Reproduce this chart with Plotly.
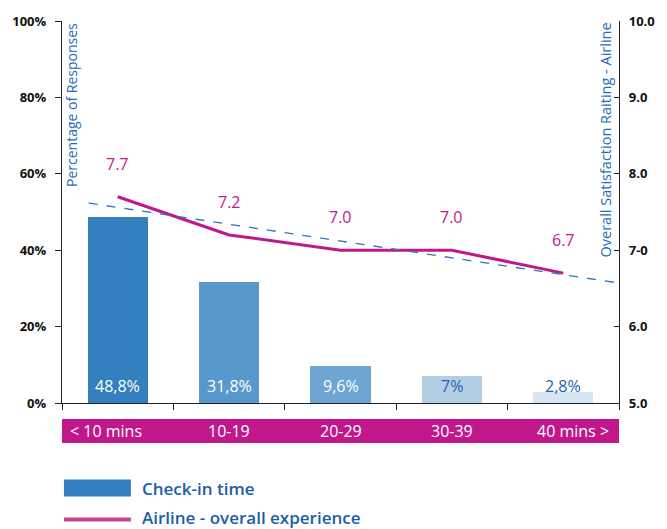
import numpy as np
import plotly.graph_objects as go

# Check-in time buckets and results
categories = ["< 10 mins", "10-19", "20-29", "30-39", "40 mins >"]
response_pct = [48.8, 31.8, 9.6, 7.0, 2.8]
response_labels = ["48,8%", "31,8%", "9,6%", "7%", "2,8%"]
rating = [7.7, 7.2, 7.0, 7.0, 6.7]
rating_labels = ["7.7", "7.2", "7.0", "7.0", "6.7"]

pct_ticks = [0, 20, 40, 60, 80, 100]
pct_ticktext = ["0%", "20%", "40%", "60%", "80%", "100%"]
rating_ticks = [5, 6, 7, 8, 9, 10]
rating_ticktext = ["5.0", "6.0", "7-0", "8.0", "9.0", "10.0"]

BAR_COLORS = ["#347fbe", "#5898cb", "#6ea5d3", "#b3cfe6", "#d5e5f2"]
BAR_TEXT = ["white", "white", "white", "#1f63b0", "#1f63b0"]
MAGENTA = "#c0188b"
BLUE_TEXT = "#1c5da8"
FONT = "Open Sans"

x = np.arange(len(categories))

fig = go.Figure()

fig.add_trace(go.Bar(
    x=x, y=response_pct, width=0.54,
    marker=dict(color=BAR_COLORS, line=dict(width=0)),
    name="Check-in time", hoverinfo="skip",
))

fig.add_trace(go.Scatter(
    x=x, y=rating, yaxis="y2", mode="lines",
    line=dict(color=MAGENTA, width=3),
    name="Airline - overall experience",
))

# linear trend of the rating
slope, intercept = np.polyfit(x, rating, 1)
trend_x = np.array([-0.26, 4.5])
fig.add_trace(go.Scatter(
    x=trend_x, y=slope * trend_x + intercept, yaxis="y2", mode="lines",
    line=dict(color="#2f75c0", width=1.3, dash="dash"),
    showlegend=False,
))

annotations = []
for i, (v, t) in enumerate(zip(rating, rating_labels)):
    annotations.append(dict(x=i, y=v, yref="y2", text=t, showarrow=False,
                            yshift=33, font=dict(family=FONT, size=16, color=MAGENTA)))
for i, t in enumerate(response_labels):
    annotations.append(dict(x=i, y=0, yref="y", text=t, showarrow=False,
                            yshift=17, font=dict(family=FONT, size=16, color=BAR_TEXT[i])))

# category band under the axis
band_y0, band_y1 = -0.105, -0.042
for i, c in enumerate(categories):
    if i == 0:
        ax, anchor = -0.45, "left"
    elif i == len(categories) - 1:
        ax, anchor = 4.43, "right"
    else:
        ax, anchor = i, "center"
    annotations.append(dict(x=ax, y=(band_y0 + band_y1) / 2, xref="x", yref="paper",
                            text=c, showarrow=False, xanchor=anchor, yanchor="middle",
                            font=dict(family=FONT, size=16, color="white")))

# axis titles inside the plot
annotations.append(dict(x=0.0, xref="paper", xshift=9, y=1.0, yref="paper",
                        text="Percentage of Responses", textangle=-90, showarrow=False,
                        xanchor="center", yanchor="top",
                        font=dict(family=FONT, size=14, color="#1f6cb8")))
annotations.append(dict(x=1.0, xref="paper", xshift=-14, y=1.0, yref="paper",
                        text="Overall Satisfaction Raiting - Airline", textangle=-90,
                        showarrow=False, xanchor="center", yanchor="top",
                        font=dict(family=FONT, size=14.5, color="#1f6cb8")))

shapes = [
    dict(type="rect", xref="x", yref="paper", x0=-0.5, x1=4.5, y0=band_y0, y1=band_y1,
         fillcolor=MAGENTA, line=dict(width=0), layer="below"),
]

fig.update_layout(
    width=667, height=529,
    margin=dict(l=60, r=41, t=19, b=126),
    paper_bgcolor="white", plot_bgcolor="white",
    showlegend=False,
    bargap=0,
    xaxis=dict(range=[-0.5, 4.5], tickvals=np.arange(-0.5, 5, 1), showticklabels=False,
               ticks="outside", ticklen=6, tickcolor="#222", showline=True,
               linecolor="#222", linewidth=1.3, showgrid=False, zeroline=False,
               fixedrange=True),
    yaxis=dict(range=[0, 100], tickvals=pct_ticks, ticktext=pct_ticktext, ticks="outside",
               ticklen=6, tickcolor="#222", showline=True, linecolor="#222",
               linewidth=1.3, showgrid=False, zeroline=False, ticklabelstandoff=6,
               tickfont=dict(family=FONT, size=13, color="#111", weight="bold")),
    yaxis2=dict(range=[5, 10], overlaying="y", side="right", tickvals=rating_ticks,
                ticktext=rating_ticktext, ticks="inside", ticklen=5, tickcolor="#222",
                showline=True, linecolor="#222", linewidth=1.3, showgrid=False,
                zeroline=False, ticklabelstandoff=6,
                tickfont=dict(family=FONT, size=13, color="#111", weight="bold")),
    annotations=annotations,
    shapes=shapes,
)

# legend entries below the chart (paper coordinates from pixel positions)
H = 529 - 19 - 126
W = 667 - 60 - 41
def px_x(p):
    return (p - 60) / W
def px_y(p):
    return (403 - p) / H

fig.add_shape(type="rect", xref="paper", yref="paper", x0=px_x(62), x1=px_x(130),
              y0=px_y(497), y1=px_y(480), fillcolor="#347fbe", line=dict(width=0))
fig.add_shape(type="line", xref="paper", yref="paper", x0=px_x(62), x1=px_x(130),
              y0=px_y(520), y1=px_y(520), line=dict(color="#c8449c", width=4))
fig.add_annotation(x=px_x(139), y=px_y(488.5), xref="paper", yref="paper",
                   text="Check-in time", showarrow=False, xanchor="left", yanchor="middle",
                   font=dict(family=FONT, size=17, color=BLUE_TEXT, weight=600))
fig.add_annotation(x=px_x(139), y=px_y(518), xref="paper", yref="paper",
                   text="Airline - overall experience", showarrow=False, xanchor="left",
                   yanchor="middle",
                   font=dict(family=FONT, size=17, color=BLUE_TEXT, weight=600))

fig.write_html("out.html")
